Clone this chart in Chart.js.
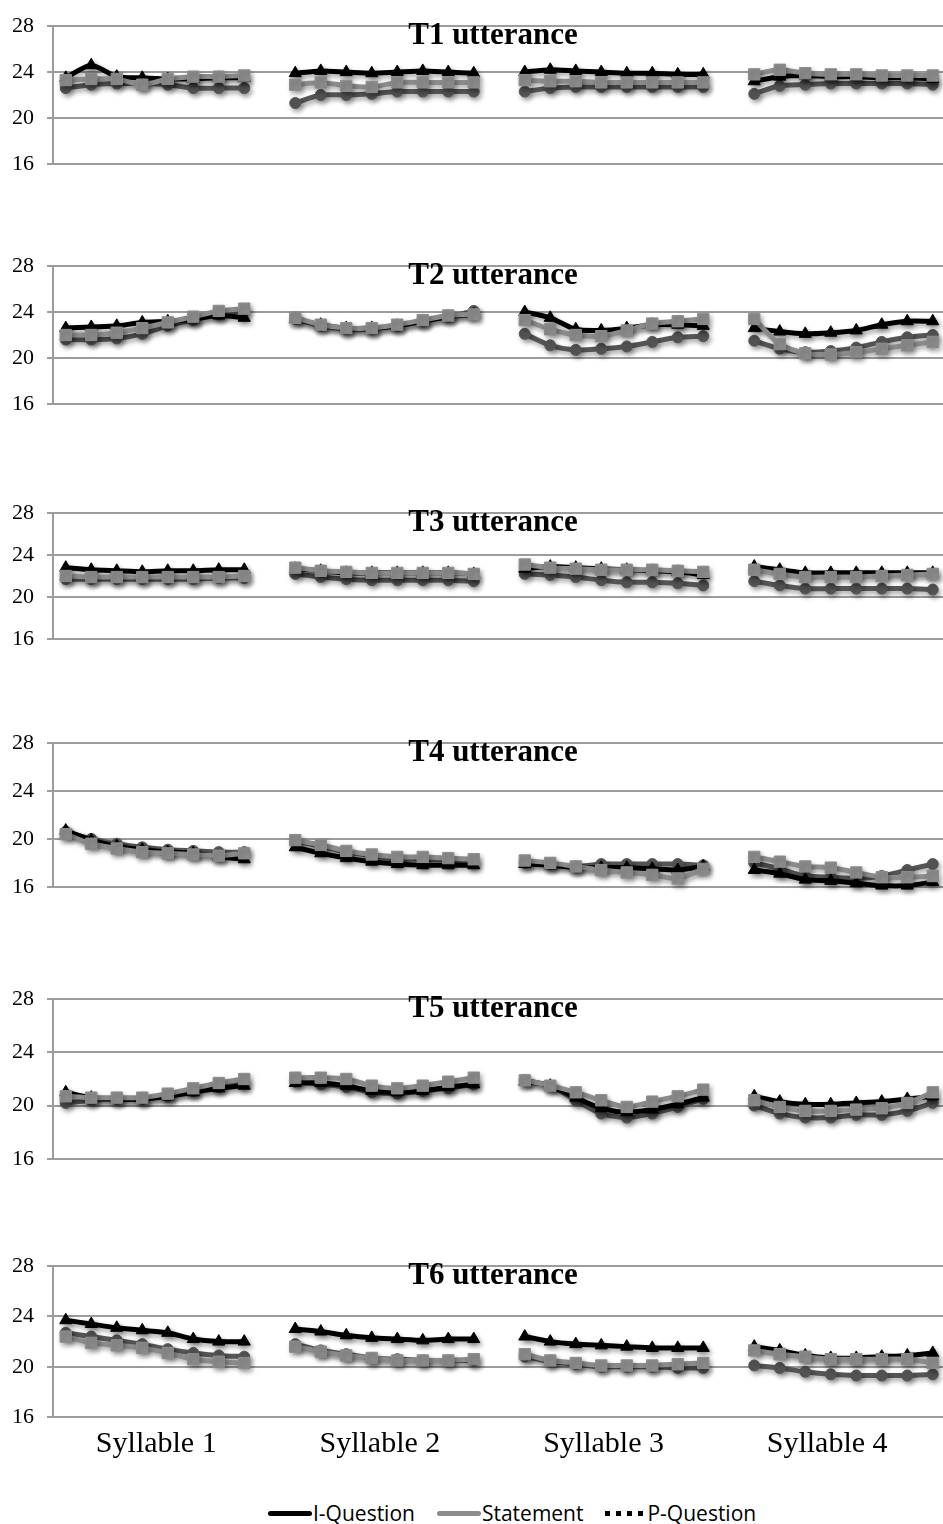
<!DOCTYPE html>
<html>
<head>
<meta charset="utf-8">
<title>F0 contours by utterance type</title>
<script src="https://cdn.jsdelivr.net/npm/chart.js@4.4.1/dist/chart.umd.min.js"></script>
<style>
  html, body { margin: 0; padding: 0; background: #fff; }
  #page { position: relative; width: 943px; height: 1524px; overflow: hidden; }
  #page canvas { position: absolute; left: 0; }
  #legend {
    position: absolute; top: 1499px; left: 268px;
    display: flex; align-items: center; white-space: nowrap;
    font-family: 'Open Sans', sans-serif; font-size: 21px; color: #000;
  }
  #legend .key { display: inline-block; width: 44px; height: 5px; border-radius: 3px; margin-right: 1px; }
  #legend .key.dotted {
    width: 38px; border-radius: 0; margin-right: 4px;
    background: repeating-linear-gradient(to right, #000 0 5px, transparent 5px 11px) !important;
  }
  #legend .item { display: flex; align-items: center; margin-right: 22px; }
</style>
</head>
<body>
<div id="page"><div id="legend"></div></div>
<script>
const syllables = ['Syllable 1', 'Syllable 2', 'Syllable 3', 'Syllable 4'];
const yTicks = [16, 20, 24, 28];
const seriesNames = ['I-Question', 'Statement', 'P-Question'];
const panelTitles = ['T1 utterance', 'T2 utterance', 'T3 utterance', 'T4 utterance', 'T5 utterance', 'T6 utterance'];

// 8 samples per syllable, syllables 1-4 in order
const t1IQuestion = [
  23.5, 24.6, 23.6, 23.5, 23.4, 23.4, 23.5, 23.5,
  23.9, 24.1, 24.0, 23.9, 24.0, 24.1, 24.0, 23.9,
  24.0, 24.2, 24.1, 24.0, 23.9, 23.9, 23.8, 23.8,
  23.2, 23.6, 23.7, 23.6, 23.6, 23.5, 23.5, 23.4];
const t1Statement = [
  23.3, 23.4, 23.4, 22.9, 23.4, 23.6, 23.6, 23.7,
  22.9, 23.1, 22.8, 22.7, 23.1, 23.1, 23.1, 23.1,
  23.3, 23.2, 23.2, 23.1, 23.1, 23.1, 23.1, 23.1,
  23.8, 24.2, 23.9, 23.8, 23.8, 23.7, 23.7, 23.7];
const t1PQuestion = [
  22.6, 22.9, 23.0, 23.0, 22.9, 22.6, 22.6, 22.6,
  21.3, 22.0, 22.0, 22.1, 22.3, 22.3, 22.3, 22.3,
  22.3, 22.6, 22.7, 22.7, 22.7, 22.7, 22.7, 22.7,
  22.1, 22.8, 22.9, 23.0, 23.0, 23.0, 23.0, 22.9];

const t2IQuestion = [
  22.6, 22.7, 22.8, 23.1, 23.2, 23.4, 23.7, 23.5,
  23.4, 22.9, 22.6, 22.6, 22.8, 23.2, 23.6, 23.8,
  24.0, 23.5, 22.5, 22.4, 22.6, 22.9, 22.9, 22.8,
  22.6, 22.3, 22.1, 22.2, 22.4, 22.9, 23.2, 23.2];
const t2Statement = [
  22.0, 22.0, 22.2, 22.6, 23.1, 23.6, 24.1, 24.3,
  23.5, 22.9, 22.6, 22.6, 22.9, 23.3, 23.7, 23.8,
  23.3, 22.5, 22.0, 21.9, 22.4, 23.0, 23.2, 23.4,
  23.4, 21.2, 20.4, 20.3, 20.5, 20.8, 21.1, 21.4];
const t2PQuestion = [
  21.6, 21.6, 21.7, 22.1, 22.8, 23.3, 23.8, 24.1,
  23.4, 22.8, 22.5, 22.5, 22.8, 23.2, 23.6, 24.1,
  22.1, 21.1, 20.7, 20.8, 21.0, 21.4, 21.8, 21.9,
  21.5, 20.8, 20.5, 20.6, 20.9, 21.4, 21.8, 22.0];

const t3IQuestion = [
  22.8, 22.6, 22.5, 22.4, 22.5, 22.5, 22.6, 22.6,
  22.7, 22.5, 22.3, 22.3, 22.3, 22.3, 22.3, 22.2,
  22.7, 22.9, 22.8, 22.7, 22.6, 22.5, 22.4, 22.1,
  22.9, 22.6, 22.3, 22.3, 22.3, 22.3, 22.3, 22.3];
const t3Statement = [
  22.0, 21.9, 21.9, 21.9, 21.9, 21.9, 21.9, 22.0,
  22.8, 22.5, 22.4, 22.3, 22.3, 22.3, 22.3, 22.2,
  23.1, 22.8, 22.7, 22.6, 22.6, 22.6, 22.5, 22.4,
  22.6, 22.2, 21.9, 21.9, 21.9, 22.0, 22.1, 22.2];
const t3PQuestion = [
  21.7, 21.7, 21.7, 21.7, 21.7, 21.7, 21.8, 21.8,
  22.2, 21.9, 21.7, 21.6, 21.6, 21.6, 21.6, 21.5,
  22.2, 22.1, 21.9, 21.6, 21.4, 21.4, 21.3, 21.1,
  21.5, 21.1, 20.8, 20.8, 20.8, 20.8, 20.8, 20.7];

const t4IQuestion = [
  20.7, 19.9, 19.4, 19.1, 18.9, 18.8, 18.5, 18.3,
  19.3, 18.8, 18.4, 18.1, 17.9, 17.8, 17.8, 17.8,
  17.9, 17.8, 17.6, 17.6, 17.6, 17.5, 17.4, 17.7,
  17.4, 17.1, 16.6, 16.5, 16.3, 16.1, 16.1, 16.4];
const t4Statement = [
  20.4, 19.6, 19.2, 18.9, 18.8, 18.7, 18.6, 18.8,
  19.9, 19.5, 19.0, 18.7, 18.5, 18.5, 18.4, 18.3,
  18.2, 18.0, 17.7, 17.4, 17.2, 17.0, 16.7, 17.5,
  18.5, 18.1, 17.7, 17.6, 17.2, 16.8, 16.8, 16.9];
const t4PQuestion = [
  20.6, 20.0, 19.6, 19.3, 19.1, 19.0, 18.9, 18.9,
  19.8, 19.4, 18.9, 18.6, 18.3, 18.3, 18.2, 18.1,
  18.0, 17.9, 17.7, 17.9, 17.9, 17.9, 17.9, 17.8,
  18.0, 17.5, 16.9, 16.8, 16.7, 16.9, 17.4, 17.9];

const t5IQuestion = [
  21.0, 20.6, 20.5, 20.5, 20.7, 21.0, 21.3, 21.5,
  21.7, 21.7, 21.5, 21.1, 21.0, 21.1, 21.4, 21.6,
  21.8, 21.5, 20.6, 19.8, 19.5, 19.7, 20.1, 20.6,
  20.7, 20.3, 20.1, 20.1, 20.2, 20.3, 20.5, 20.7];
const t5Statement = [
  20.7, 20.6, 20.6, 20.6, 20.9, 21.3, 21.7, 22.0,
  22.1, 22.1, 22.0, 21.5, 21.3, 21.5, 21.8, 22.1,
  21.9, 21.5, 21.0, 20.4, 19.9, 20.3, 20.7, 21.2,
  20.4, 19.9, 19.6, 19.6, 19.7, 19.8, 20.2, 21.0];
const t5PQuestion = [
  20.2, 20.4, 20.5, 20.5, 20.7, 21.1, 21.4, 21.7,
  21.8, 21.6, 21.4, 21.0, 20.9, 21.1, 21.3, 21.6,
  21.9, 21.5, 20.4, 19.4, 19.1, 19.4, 19.9, 20.5,
  20.0, 19.4, 19.1, 19.1, 19.3, 19.3, 19.6, 20.2];

const t6IQuestion = [
  23.7, 23.4, 23.1, 22.9, 22.7, 22.2, 22.0, 22.0,
  23.0, 22.8, 22.5, 22.3, 22.2, 22.1, 22.2, 22.2,
  22.4, 22.0, 21.8, 21.7, 21.6, 21.5, 21.5, 21.5,
  21.6, 21.3, 20.9, 20.7, 20.7, 20.8, 20.9, 21.1];
const t6Statement = [
  22.4, 21.9, 21.7, 21.5, 21.1, 20.6, 20.4, 20.3,
  21.6, 21.2, 20.9, 20.7, 20.5, 20.5, 20.5, 20.6,
  21.0, 20.5, 20.3, 20.1, 20.1, 20.1, 20.2, 20.3,
  21.3, 21.0, 20.8, 20.6, 20.6, 20.6, 20.6, 20.3];
const t6PQuestion = [
  22.7, 22.4, 22.1, 21.8, 21.4, 21.1, 20.9, 20.8,
  21.8, 21.3, 21.0, 20.7, 20.6, 20.5, 20.5, 20.5,
  20.8, 20.4, 20.2, 20.0, 20.0, 20.0, 19.9, 19.9,
  20.1, 19.9, 19.6, 19.4, 19.3, 19.3, 19.3, 19.4];

const panelSeries = [
  [t1IQuestion, t1Statement, t1PQuestion],
  [t2IQuestion, t2Statement, t2PQuestion],
  [t3IQuestion, t3Statement, t3PQuestion],
  [t4IQuestion, t4Statement, t4PQuestion],
  [t5IQuestion, t5Statement, t5PQuestion],
  [t6IQuestion, t6Statement, t6PQuestion],
];

// where each panel's 28..16 band sits on the page
const panelBoxes = [
  { top: 20, height: 150 },
  { top: 260, height: 150 },
  { top: 507, height: 138 },
  { top: 737, height: 156 },
  { top: 993, height: 172 },
  { top: 1260, height: 166 },
];

const seriesStyle = [
  { color: '#000000', pointStyle: 'triangle', radius: 7, order: 1, key: 'solid' },
  { color: '#8c8c8c', pointStyle: 'rect', radius: 8, order: 0, key: 'solid' },
  { color: '#555555', pointStyle: 'circle', radius: 5.5, order: 2, key: 'dotted' },
];

const SAMPLES = 8;
const GRID = '#9c9c9c';
const SERIF = '"Liberation Serif", "Times New Roman", serif';

Chart.defaults.font.family = SERIF;
Chart.defaults.color = '#000';

// one empty slot after each syllable so the line breaks between them
function toPoints(values) {
  const pts = [];
  syllables.forEach((_, g) => {
    for (let k = 0; k < SAMPLES; k++) {
      pts.push({ x: g * (SAMPLES + 1) + k, y: values[g * SAMPLES + k] });
    }
    pts.push({ x: g * (SAMPLES + 1) + SAMPLES, y: null });
  });
  return pts;
}

const panelTitle = {
  id: 'panelTitle',
  afterDraw(chart, args, opts) {
    const { ctx, chartArea } = chart;
    ctx.save();
    ctx.font = 'bold 31px ' + SERIF;
    ctx.fillStyle = '#000';
    ctx.textAlign = 'center';
    ctx.textBaseline = 'middle';
    ctx.fillText(opts.text, 493, chartArea.top + 10);
    ctx.restore();
  }
};

// soft drop shadow under the lines and markers
const lineShadow = {
  id: 'lineShadow',
  beforeDatasetsDraw(chart) {
    const ctx = chart.ctx;
    ctx.save();
    ctx.shadowColor = 'rgba(0, 0, 0, 0.35)';
    ctx.shadowBlur = 5;
    ctx.shadowOffsetX = 2;
    ctx.shadowOffsetY = 3;
  },
  afterDatasetsDraw(chart) {
    chart.ctx.restore();
  }
};

const page = document.getElementById('page');

panelSeries.forEach((series, p) => {
  const last = p === panelSeries.length - 1;
  const box = panelBoxes[p];
  const padTop = 20;
  const padBottom = last ? 4 : 20;
  const axisH = last ? 45 : 0;

  const canvas = document.createElement('canvas');
  canvas.width = 980;
  canvas.height = padTop + box.height + axisH + padBottom;
  canvas.style.top = (box.top - padTop) + 'px';
  page.appendChild(canvas);

  new Chart(canvas.getContext('2d'), {
    type: 'line',
    data: {
      datasets: series.map((values, s) => ({
        label: seriesNames[s],
        data: toPoints(values),
        order: seriesStyle[s].order,
        clip: 10,
        borderColor: seriesStyle[s].color,
        backgroundColor: seriesStyle[s].color,
        borderWidth: 5,
        tension: 0.25,
        pointStyle: seriesStyle[s].pointStyle,
        pointRadius: seriesStyle[s].radius,
        pointBorderWidth: 1,
        pointBorderColor: seriesStyle[s].color,
        pointBackgroundColor: seriesStyle[s].color,
        spanGaps: false
      }))
    },
    options: {
      responsive: false,
      animation: false,
      events: [],
      layout: { padding: { top: padTop, right: 2, bottom: padBottom, left: 0 } },
      plugins: {
        legend: { display: false },
        tooltip: { enabled: false },
        panelTitle: { text: panelTitles[p] }
      },
      scales: {
        x: {
          type: 'linear',
          min: -0.5,
          max: syllables.length * (SAMPLES + 1) - 0.5,
          display: last,
          grid: { display: false, drawTicks: false },
          border: { display: false },
          afterBuildTicks: (scale) => {
            scale.ticks = syllables.map((_, g) => ({ value: 3.55 + g * 8.77 }));
          },
          ticks: {
            autoSkip: false,
            maxRotation: 0,
            padding: 9,
            color: '#000',
            font: { family: SERIF, size: 30 },
            callback: (v, i) => syllables[i]
          }
        },
        y: {
          min: 16,
          max: 28,
          afterBuildTicks: (scale) => {
            scale.ticks = yTicks.map(v => ({ value: v }));
          },
          afterFit: (scale) => { scale.width = 53; },
          grid: { color: GRID, lineWidth: 2, tickLength: 6, tickColor: GRID },
          border: { display: true, color: GRID, width: 2 },
          ticks: { padding: 13, color: '#000', font: { family: SERIF, size: 22 } }
        }
      }
    },
    plugins: [lineShadow, panelTitle]
  });
});

// legend row under the last panel
const legend = document.getElementById('legend');
seriesNames.forEach((name, s) => {
  const item = document.createElement('span');
  item.className = 'item';
  const key = document.createElement('span');
  key.className = 'key ' + seriesStyle[s].key;
  key.style.background = s === 2 ? '#000' : seriesStyle[s].color;
  const text = document.createElement('span');
  text.textContent = name;
  item.appendChild(key);
  item.appendChild(text);
  legend.appendChild(item);
});
</script>
</body>
</html>
